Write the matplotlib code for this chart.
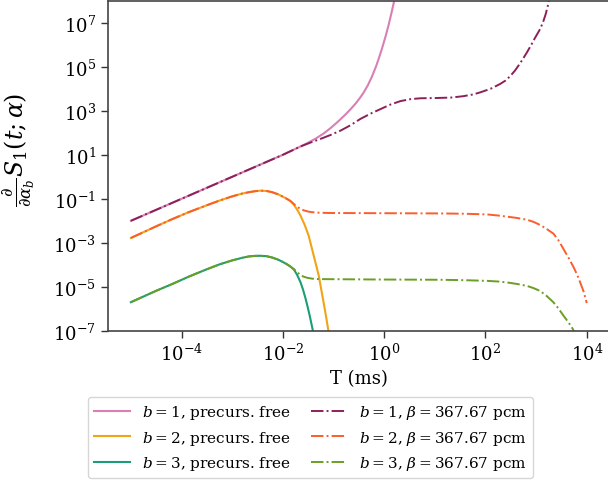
import numpy as np
import matplotlib
matplotlib.use("Agg")
import matplotlib.pyplot as plt

plt.rcParams['font.family'] = ['DejaVu Serif']
plt.rcParams['mathtext.fontset'] = 'dejavuserif'

# ---- data (log10 of time in ms, log10 of sensitivity) ----
b1_free_logt = [-5.0, -4.0, -3.0, -2.0, -1.65, -1.50, -1.35, -1.20, -1.06, -0.95, -0.86, -0.76, -0.66, -0.56, -0.47,
                -0.40, -0.32, -0.24, -0.16, -0.10, -0.04, 0.03, 0.09, 0.15, 0.20, 0.25]
b1_free_logy = [-2.0, -1.0, 0.0, 1.0, 1.38, 1.55, 1.74, 1.96, 2.21, 2.43, 2.62, 2.84, 3.08, 3.34, 3.61,
                3.85, 4.17, 4.56, 5.02, 5.42, 5.85, 6.40, 6.92, 7.50, 8.02, 8.6]

b1_beta_logt = [-5.0, -4.0, -3.0, -2.0, -1.65, -1.45, -1.26, -1.06, -0.86, -0.66, -0.47, -0.27, -0.07, 0.12, 0.32, 0.52,
                0.72, 1.0, 1.31, 1.55, 1.75, 1.90, 2.10, 2.29, 2.40, 2.49, 2.58, 2.66, 2.74, 2.82, 2.90, 2.97, 3.03,
                3.08, 3.14, 3.19, 3.24, 3.29]
b1_beta_logy = [-2.0, -1.0, 0.0, 1.0, 1.38, 1.56, 1.72, 1.90, 2.10, 2.35, 2.63, 2.87, 3.08, 3.28, 3.44, 3.53,
                3.57, 3.58, 3.60, 3.66, 3.74, 3.84, 4.00, 4.22, 4.38, 4.58, 4.82, 5.08, 5.36, 5.66, 5.98, 6.28, 6.52,
                6.72, 7.05, 7.40, 7.85, 8.4]

b2_free_logt = [-5.0, -4.5, -4.18, -3.85, -3.52, -3.25, -3.0, -2.8, -2.67, -2.55, -2.44, -2.32, -2.21, -2.10, -2.01,
                -1.93, -1.85, -1.80, -1.75, -1.70, -1.65, -1.57, -1.49, -1.39, -1.29, -1.22, -1.15, -1.09, -1.04]
b2_free_logy = [-2.78, -2.25, -1.92, -1.60, -1.31, -1.08, -0.89, -0.76, -0.70, -0.655, -0.63, -0.645, -0.70, -0.79, -0.89,
                -0.99, -1.10, -1.22, -1.38, -1.56, -1.77, -2.18, -2.68, -3.59, -4.50, -5.40, -6.31, -7.15, -8.0]

b2_beta_logt = [-5.0, -4.5, -4.18, -3.85, -3.52, -3.25, -3.0, -2.8, -2.67, -2.55, -2.44, -2.32, -2.21, -2.10, -2.01,
                -1.93, -1.85, -1.80, -1.75, -1.70, -1.65, -1.58, -1.50, -1.42, -1.30, -1.1, 0.0, 1.11, 1.6, 2.03,
                2.25, 2.42, 2.62, 2.82, 2.95, 3.08, 3.20, 3.34, 3.44, 3.54, 3.64, 3.74, 3.81, 3.87, 3.94, 4.0]
b2_beta_logy = [-2.78, -2.25, -1.92, -1.60, -1.31, -1.08, -0.89, -0.76, -0.70, -0.655, -0.63, -0.645, -0.70, -0.79, -0.89,
                -0.99, -1.10, -1.20, -1.30, -1.39, -1.46, -1.53, -1.58, -1.61, -1.63, -1.645, -1.655, -1.665, -1.68, -1.71,
                -1.76, -1.81, -1.87, -1.95, -2.05, -2.19, -2.36, -2.58, -2.88, -3.28, -3.68, -4.11, -4.45, -4.80, -5.23, -5.74]

b3_free_logt = [-5.0, -4.5, -4.18, -3.85, -3.52, -3.25, -3.0, -2.8, -2.67, -2.55, -2.44, -2.32, -2.21, -2.10, -2.01,
                -1.93, -1.85, -1.78, -1.72, -1.65, -1.60, -1.55, -1.51, -1.47, -1.40, -1.33]
b3_free_logy = [-5.70, -5.18, -4.87, -4.53, -4.22, -3.98, -3.80, -3.68, -3.62, -3.595, -3.59, -3.61, -3.67, -3.76, -3.86,
                -3.96, -4.08, -4.22, -4.45, -4.80, -5.14, -5.55, -5.92, -6.31, -7.07, -8.0]

b3_beta_logt = [-5.0, -4.5, -4.18, -3.85, -3.52, -3.25, -3.0, -2.8, -2.67, -2.55, -2.44, -2.32, -2.21, -2.10, -2.01,
                -1.93, -1.85, -1.78, -1.72, -1.66, -1.60, -1.52, -1.42, -1.3, 0.0, 1.11, 1.6, 2.03, 2.25, 2.42,
                2.62, 2.82, 2.95, 3.08, 3.20, 3.34, 3.44, 3.54, 3.64, 3.72, 3.80, 3.87, 3.94, 4.0]
b3_beta_logy = [-5.70, -5.18, -4.87, -4.53, -4.22, -3.98, -3.80, -3.68, -3.62, -3.595, -3.59, -3.61, -3.67, -3.76, -3.86,
                -3.96, -4.08, -4.20, -4.33, -4.45, -4.53, -4.59, -4.63, -4.65, -4.67, -4.68, -4.70, -4.73, -4.76, -4.80,
                -4.87, -4.96, -5.06, -5.19, -5.40, -5.70, -5.98, -6.31, -6.62, -6.90, -7.3, -7.7, -8.2, -8.7]

labels_free = [r'$b=1$, precurs. free', r'$b=2$, precurs. free', r'$b=3$, precurs. free']
labels_beta = [r'$b=1$, $\beta=367.67$ pcm', r'$b=2$, $\beta=367.67$ pcm', r'$b=3$, $\beta=367.67$ pcm']

colors_free = ['#d880b5', '#f0a416', '#1b9e77']
colors_beta = ['#8c2159', '#fb5d2c', '#6a9e25']

fig = plt.figure(figsize=(6.08, 4.85), dpi=100)
ax = fig.add_axes([107.7/608, (485-331.8)/485, (609.5-107.7)/608, (331.8-1.8)/485])

free = [(b1_free_logt, b1_free_logy), (b2_free_logt, b2_free_logy), (b3_free_logt, b3_free_logy)]
beta = [(b1_beta_logt, b1_beta_logy), (b2_beta_logt, b2_beta_logy), (b3_beta_logt, b3_beta_logy)]

handles = []
for (lt, ly), c, lab in zip(free, colors_free, labels_free):
    h, = ax.plot(10**np.array(lt), 10**np.array(ly), '-', color=c, lw=1.5, label=lab)
    handles.append(h)
for (lt, ly), c, lab in zip(beta, colors_beta, labels_beta):
    h, = ax.plot(10**np.array(lt), 10**np.array(ly), '-.', color=c, lw=1.4, label=lab)
    handles.append(h)

ax.set_xscale('log')
ax.set_yscale('log')
ax.set_xlim(10**-5.458, 10**4.449)
ax.set_ylim(1e-7, 1e8)
ax.set_xticks([1e-4, 1e-2, 1e0, 1e2, 1e4])
ax.set_yticks([1e-7, 1e-5, 1e-3, 1e-1, 1e1, 1e3, 1e5, 1e7])
ax.minorticks_off()
ax.tick_params(labelsize=13, length=5, width=1, color='#333333')
for s in ax.spines.values():
    s.set_color('#444444')
    s.set_linewidth(1.2)

ax.set_xlabel('T (ms)', fontsize=13)
ax.set_ylabel(r'$\frac{\partial}{\partial \alpha_b} S_1(t;\alpha)$', fontsize=17)
ax.yaxis.set_label_coords(-0.141, 0.551)

fig.legend(handles=handles, loc='upper center', bbox_to_anchor=(0.5107, 0.1955), ncol=2, fontsize=11,
           handlelength=2.35, columnspacing=1.3)

fig.savefig('out.png', dpi=100)
